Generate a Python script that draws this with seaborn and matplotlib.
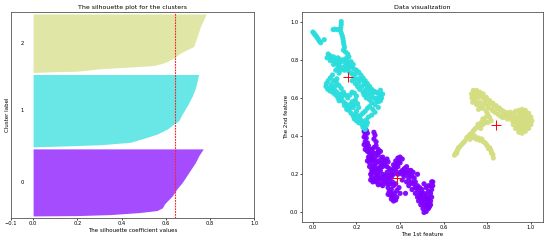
import matplotlib
matplotlib.use("Agg")
import matplotlib.pyplot as plt
import numpy as np
import pandas as pd
import seaborn as sns

# silhouette profile per cluster (fraction of the cluster height -> coefficient)
cluster_names = ["0", "1", "2"]
cluster_sizes = [338, 365, 295]
avg_silhouette = 0.641

sil_frac_0 = [0.0, 0.005, 0.02, 0.05, 0.08, 0.12, 0.18, 0.25, 0.30, 0.40, 0.50, 0.60, 0.70, 0.80, 0.90, 1.0]
sil_vals_0 = [0.0, 0.20, 0.35, 0.48, 0.56, 0.585, 0.595, 0.615, 0.63, 0.65, 0.675, 0.695, 0.715, 0.735, 0.75, 0.77]

sil_frac_1 = [0.0, 0.014, 0.03, 0.064, 0.133, 0.178, 0.247, 0.315, 0.36, 0.45, 0.566, 0.70, 0.815, 1.0]
sil_vals_1 = [0.0, 0.155, 0.306, 0.441, 0.516, 0.562, 0.607, 0.637, 0.659, 0.674, 0.697, 0.72, 0.735, 0.749]

sil_frac_2 = [0.0, 0.012, 0.022, 0.063, 0.09, 0.107, 0.12, 0.165, 0.19, 0.25, 0.334, 0.39, 0.446, 0.615, 0.785, 1.0]
sil_vals_2 = [0.0, 0.08, 0.20, 0.30, 0.42, 0.50, 0.546, 0.592, 0.607, 0.637, 0.667, 0.697, 0.727, 0.742, 0.757, 0.784]

# cluster centres
centers_x = [0.388, 0.163, 0.841]
centers_y = [0.183, 0.709, 0.457]

# data points
points_0 = [
    (0.235, 0.425), (0.245, 0.43), (0.24, 0.41), (0.25, 0.415), (0.235, 0.395), (0.245, 0.39),
    (0.24, 0.37), (0.25, 0.365), (0.255, 0.35), (0.245, 0.345), (0.28, 0.42), (0.285, 0.405),
    (0.28, 0.385), (0.29, 0.37), (0.24, 0.33), (0.25, 0.32), (0.26, 0.31), (0.27, 0.33),
    (0.28, 0.34), (0.29, 0.35), (0.30, 0.33), (0.31, 0.32), (0.27, 0.30), (0.285, 0.29),
    (0.30, 0.30), (0.29, 0.31), (0.255, 0.29), (0.25, 0.27), (0.26, 0.26), (0.275, 0.27),
    (0.29, 0.26), (0.30, 0.27), (0.315, 0.28), (0.32, 0.29), (0.33, 0.27), (0.34, 0.28),
    (0.345, 0.265), (0.26, 0.24), (0.27, 0.225), (0.28, 0.21), (0.265, 0.20), (0.27, 0.185),
    (0.28, 0.17), (0.29, 0.16), (0.30, 0.17), (0.29, 0.195), (0.30, 0.21), (0.31, 0.22),
    (0.32, 0.24), (0.33, 0.25), (0.34, 0.24), (0.35, 0.23), (0.32, 0.20), (0.33, 0.19),
    (0.34, 0.21), (0.36, 0.22), (0.37, 0.25), (0.38, 0.27), (0.39, 0.285), (0.40, 0.29),
    (0.41, 0.28), (0.40, 0.26), (0.39, 0.24), (0.38, 0.22), (0.37, 0.20), (0.36, 0.185),
    (0.35, 0.17), (0.31, 0.15), (0.32, 0.14), (0.30, 0.145), (0.34, 0.15), (0.345, 0.13),
    (0.35, 0.11), (0.355, 0.09), (0.36, 0.07), (0.37, 0.06), (0.38, 0.065), (0.385, 0.08),
    (0.375, 0.10), (0.36, 0.12), (0.37, 0.14), (0.38, 0.15), (0.395, 0.13), (0.40, 0.10),
    (0.41, 0.17), (0.42, 0.19), (0.43, 0.21), (0.44, 0.20), (0.45, 0.22), (0.43, 0.24),
    (0.42, 0.23), (0.44, 0.18), (0.45, 0.16), (0.46, 0.15), (0.47, 0.13), (0.48, 0.12),
    (0.49, 0.10), (0.50, 0.09), (0.51, 0.08), (0.50, 0.06), (0.51, 0.04), (0.52, 0.03),
    (0.53, 0.02), (0.52, 0.005), (0.51, 0.0), (0.505, 0.02), (0.495, 0.04), (0.485, 0.06),
    (0.48, 0.08), (0.53, 0.05), (0.54, 0.06), (0.545, 0.08), (0.54, 0.10), (0.545, 0.12),
    (0.55, 0.14), (0.545, 0.16), (0.53, 0.11), (0.52, 0.13), (0.51, 0.15), (0.47, 0.10),
    (0.455, 0.12), (0.44, 0.14), (0.465, 0.18), (0.48, 0.20), (0.425, 0.10), (0.43, 0.16),
    (0.235, 0.355), (0.26, 0.33), (0.265, 0.32), (0.275, 0.315), (0.30, 0.315), (0.26, 0.28),
    (0.27, 0.285), (0.28, 0.275), (0.31, 0.26), (0.32, 0.26), (0.31, 0.24), (0.30, 0.23),
    (0.29, 0.225), (0.28, 0.23), (0.275, 0.245), (0.285, 0.245), (0.29, 0.18), (0.30, 0.19),
    (0.31, 0.18), (0.32, 0.17), (0.33, 0.16), (0.34, 0.18), (0.35, 0.195), (0.36, 0.20),
    (0.37, 0.23), (0.38, 0.24), (0.385, 0.255), (0.395, 0.265), (0.39, 0.20), (0.40, 0.21),
    (0.41, 0.20), (0.42, 0.21), (0.41, 0.22), (0.44, 0.22), (0.46, 0.21), (0.455, 0.19),
    (0.47, 0.16), (0.48, 0.14), (0.49, 0.13), (0.50, 0.12), (0.50, 0.10), (0.51, 0.10),
    (0.52, 0.09), (0.52, 0.07), (0.53, 0.08), (0.53, 0.065), (0.525, 0.045), (0.515, 0.055),
    (0.50, 0.075), (0.49, 0.08), (0.54, 0.04), (0.535, 0.03), (0.54, 0.14), (0.53, 0.14),
    (0.55, 0.16), (0.355, 0.15), (0.365, 0.16), (0.36, 0.10), (0.365, 0.085), (0.37, 0.075),
    (0.345, 0.095), (0.385, 0.115), (0.27, 0.21), (0.265, 0.17), (0.275, 0.16),
]

points_1 = [
    (0.000, 0.945), (0.005, 0.938), (0.010, 0.930), (0.015, 0.924), (0.020, 0.915), (0.025, 0.906),
    (0.030, 0.897), (0.036, 0.889), (0.052, 0.905), (0.130, 1.000), (0.130, 0.985), (0.128, 0.970),
    (0.126, 0.955), (0.100, 0.960), (0.093, 0.958), (0.112, 0.958), (0.130, 0.940), (0.135, 0.925),
    (0.138, 0.910), (0.140, 0.895), (0.142, 0.880), (0.145, 0.865), (0.140, 0.850), (0.150, 0.840),
    (0.160, 0.830), (0.165, 0.815), (0.070, 0.830), (0.075, 0.820), (0.085, 0.810), (0.090, 0.800),
    (0.100, 0.790), (0.110, 0.780), (0.120, 0.775), (0.130, 0.790), (0.140, 0.800), (0.150, 0.780),
    (0.160, 0.770), (0.170, 0.765), (0.180, 0.760), (0.135, 0.760), (0.145, 0.745), (0.105, 0.745),
    (0.120, 0.730), (0.175, 0.790), (0.190, 0.750), (0.200, 0.745), (0.210, 0.735), (0.220, 0.720),
    (0.230, 0.705), (0.240, 0.690), (0.250, 0.675), (0.260, 0.660), (0.270, 0.645), (0.280, 0.635),
    (0.290, 0.630), (0.300, 0.625), (0.310, 0.615), (0.315, 0.600), (0.310, 0.585), (0.300, 0.580),
    (0.290, 0.590), (0.280, 0.600), (0.265, 0.610), (0.250, 0.620), (0.240, 0.640), (0.225, 0.660),
    (0.210, 0.680), (0.220, 0.695), (0.205, 0.700), (0.090, 0.720), (0.080, 0.705), (0.070, 0.690),
    (0.062, 0.675), (0.060, 0.660), (0.068, 0.645), (0.080, 0.635), (0.095, 0.625), (0.105, 0.615),
    (0.115, 0.600), (0.120, 0.585), (0.100, 0.660), (0.110, 0.675), (0.120, 0.665), (0.130, 0.650),
    (0.085, 0.670), (0.095, 0.690), (0.140, 0.630), (0.150, 0.615), (0.160, 0.600), (0.170, 0.615),
    (0.180, 0.630), (0.190, 0.625), (0.200, 0.610), (0.195, 0.590), (0.180, 0.580), (0.170, 0.565),
    (0.160, 0.550), (0.150, 0.570), (0.165, 0.535), (0.175, 0.520), (0.185, 0.505), (0.190, 0.490),
    (0.200, 0.480), (0.210, 0.470), (0.225, 0.460), (0.230, 0.445), (0.240, 0.435), (0.235, 0.450),
    (0.215, 0.490), (0.220, 0.510), (0.230, 0.520), (0.240, 0.530), (0.250, 0.545), (0.260, 0.555),
    (0.275, 0.540), (0.285, 0.525), (0.270, 0.510), (0.255, 0.500), (0.245, 0.485), (0.300, 0.550),
    (0.250, 0.470), (0.065, 0.810), (0.080, 0.795), (0.095, 0.775), (0.115, 0.760), (0.125, 0.745),
    (0.155, 0.755), (0.165, 0.740), (0.175, 0.730), (0.185, 0.720), (0.195, 0.725), (0.190, 0.700),
    (0.180, 0.690), (0.195, 0.675), (0.205, 0.660), (0.215, 0.645), (0.230, 0.630), (0.235, 0.615),
    (0.245, 0.600), (0.260, 0.590), (0.270, 0.575), (0.285, 0.565), (0.295, 0.600), (0.305, 0.600),
    (0.310, 0.640), (0.320, 0.620), (0.275, 0.625), (0.260, 0.635), (0.255, 0.650), (0.245, 0.665),
    (0.235, 0.680), (0.110, 0.700), (0.105, 0.690), (0.080, 0.655), (0.090, 0.645), (0.100, 0.640),
    (0.110, 0.630), (0.125, 0.620), (0.135, 0.610), (0.130, 0.595), (0.140, 0.580), (0.145, 0.560),
    (0.155, 0.540), (0.170, 0.545), (0.185, 0.550), (0.190, 0.565), (0.205, 0.570), (0.210, 0.550),
    (0.200, 0.530), (0.195, 0.515), (0.205, 0.505), (0.225, 0.480), (0.235, 0.470), (0.245, 0.455),
    (0.155, 0.810), (0.155, 0.795), (0.165, 0.785), (0.185, 0.775), (0.150, 0.765), (0.125, 0.800),
    (0.115, 0.810), (0.105, 0.800), (0.095, 0.815), (0.080, 0.820),
]

points_2 = [
    (0.736, 0.639), (0.751, 0.639), (0.766, 0.630), (0.781, 0.621), (0.728, 0.621), (0.736, 0.603),
    (0.743, 0.586), (0.733, 0.577), (0.751, 0.565), (0.766, 0.577), (0.758, 0.603), (0.796, 0.603),
    (0.811, 0.586), (0.826, 0.572), (0.841, 0.559), (0.856, 0.547), (0.871, 0.533), (0.886, 0.524),
    (0.901, 0.515), (0.915, 0.506), (0.788, 0.568), (0.803, 0.550), (0.826, 0.533), (0.848, 0.515),
    (0.871, 0.497), (0.893, 0.489), (0.770, 0.555), (0.780, 0.545), (0.760, 0.540),
    (0.92, 0.52), (0.93, 0.53), (0.945, 0.535), (0.96, 0.54), (0.975, 0.535), (0.99, 0.52),
    (1.0, 0.50), (1.005, 0.48), (1.0, 0.46), (0.99, 0.44), (0.975, 0.425), (0.96, 0.415),
    (0.945, 0.42), (0.93, 0.44), (0.92, 0.46), (0.915, 0.48), (0.93, 0.50), (0.945, 0.51),
    (0.96, 0.50), (0.975, 0.505), (0.985, 0.48), (0.97, 0.46), (0.955, 0.47), (0.94, 0.48),
    (0.95, 0.45), (0.965, 0.44), (0.98, 0.455), (0.935, 0.465), (0.925, 0.50), (0.91, 0.50),
    (0.796, 0.529), (0.803, 0.515), (0.811, 0.498), (0.788, 0.480), (0.773, 0.471), (0.758, 0.462),
    (0.803, 0.471), (0.818, 0.480), (0.751, 0.445), (0.743, 0.436), (0.736, 0.427), (0.721, 0.409),
    (0.706, 0.392), (0.698, 0.374), (0.683, 0.356), (0.668, 0.339), (0.661, 0.321), (0.655, 0.310),
    (0.650, 0.300), (0.736, 0.392), (0.751, 0.383), (0.766, 0.378), (0.781, 0.371), (0.796, 0.356),
    (0.811, 0.339), (0.818, 0.321), (0.826, 0.303), (0.828, 0.285), (0.721, 0.383), (0.743, 0.400),
    (0.925, 0.485), (0.94, 0.495), (0.955, 0.52), (0.97, 0.52), (0.985, 0.50), (0.995, 0.495),
    (0.995, 0.465), (0.985, 0.445), (0.97, 0.445), (0.955, 0.435), (0.94, 0.44), (0.965, 0.485),
    (0.95, 0.49), (0.98, 0.47), (0.945, 0.46), (0.74, 0.63), (0.745, 0.615), (0.76, 0.62),
    (0.77, 0.61), (0.78, 0.60), (0.73, 0.60), (0.74, 0.595), (0.75, 0.575), (0.80, 0.59),
    (0.815, 0.575), (0.83, 0.56), (0.845, 0.545), (0.86, 0.535), (0.875, 0.52), (0.89, 0.51),
    (0.90, 0.50), (0.905, 0.525), (0.835, 0.525), (0.82, 0.54), (0.805, 0.56), (0.79, 0.58),
    (0.86, 0.505), (0.88, 0.50), (0.78, 0.46), (0.79, 0.47), (0.765, 0.455), (0.77, 0.44),
    (0.78, 0.49), (0.795, 0.50), (0.73, 0.415), (0.715, 0.40), (0.76, 0.39), (0.775, 0.385),
    (0.79, 0.365), (0.80, 0.35), (0.805, 0.335), (0.815, 0.33), (0.82, 0.31), (0.69, 0.365),
    (0.675, 0.345), (0.665, 0.33), (0.66, 0.31),
]

colors = [plt.cm.rainbow(i / 3) for i in range(3)]

rows = []
for k, pts in enumerate([points_0, points_1, points_2]):
    for x, y in pts:
        rows.append({"f1": x, "f2": y, "cluster": cluster_names[k]})
df = pd.DataFrame(rows)

fig = plt.figure(figsize=(5.5, 2.4), dpi=100)
ax1 = fig.add_axes([0.02, 0.092, 0.442, 0.858])
ax2 = fig.add_axes([0.549, 0.075, 0.438, 0.875])

# 1. silhouette plot
fracs = [sil_frac_0, sil_frac_1, sil_frac_2]
vals = [sil_vals_0, sil_vals_1, sil_vals_2]
y_lower = 10
for k in range(3):
    size = cluster_sizes[k]
    y = y_lower + np.array(fracs[k]) * size
    ax1.fill_betweenx(y, 0, vals[k], facecolor=colors[k], edgecolor=colors[k], alpha=0.7, lw=0)
    ax1.text(-0.05, y_lower + 0.5 * size, cluster_names[k], fontsize=3.8, ha="center", va="center")
    y_lower += size + 10

ax1.axvline(x=avg_silhouette, color="#ff2020", linestyle=(0, (1.6, 0.9)), lw=0.8, zorder=5)
ax1.set_xlim(-0.1, 1.0)
ax1.set_ylim(0, sum(cluster_sizes) + 40)
ax1.set_yticks([])
ax1.set_xticks([-0.1, 0, 0.2, 0.4, 0.6, 0.8, 1])
ax1.set_title("The silhouette plot for the clusters", fontsize=4.5, pad=2)
ax1.set_xlabel("The silhouette coefficient values", fontsize=4.0, labelpad=1)
ax1.set_ylabel("Cluster label", fontsize=4.0, labelpad=1)

# 2. clustered data
sns.scatterplot(data=df, x="f1", y="f2", hue="cluster", palette=colors[:3], s=14,
                linewidth=0, alpha=0.95, legend=False, ax=ax2)
ax2.scatter(centers_x, centers_y, marker="+", s=45, c="red", linewidths=0.7, zorder=5)
ax2.set_xticks([0.0, 0.2, 0.4, 0.6, 0.8, 1.0])
ax2.set_yticks([0.0, 0.2, 0.4, 0.6, 0.8, 1.0])
ax2.set_title("Data visualization", fontsize=4.5, pad=2)
ax2.set_xlabel("The 1st feature", fontsize=4.0, labelpad=1)
ax2.set_ylabel("The 2nd feature", fontsize=4.0, labelpad=1)

for ax in (ax1, ax2):
    ax.tick_params(labelsize=3.7, length=1.5, width=0.5, pad=1)
    for sp in ax.spines.values():
        sp.set_linewidth(0.6)
        sp.set_color("#555555")

fig.savefig("out.png", dpi=100)
